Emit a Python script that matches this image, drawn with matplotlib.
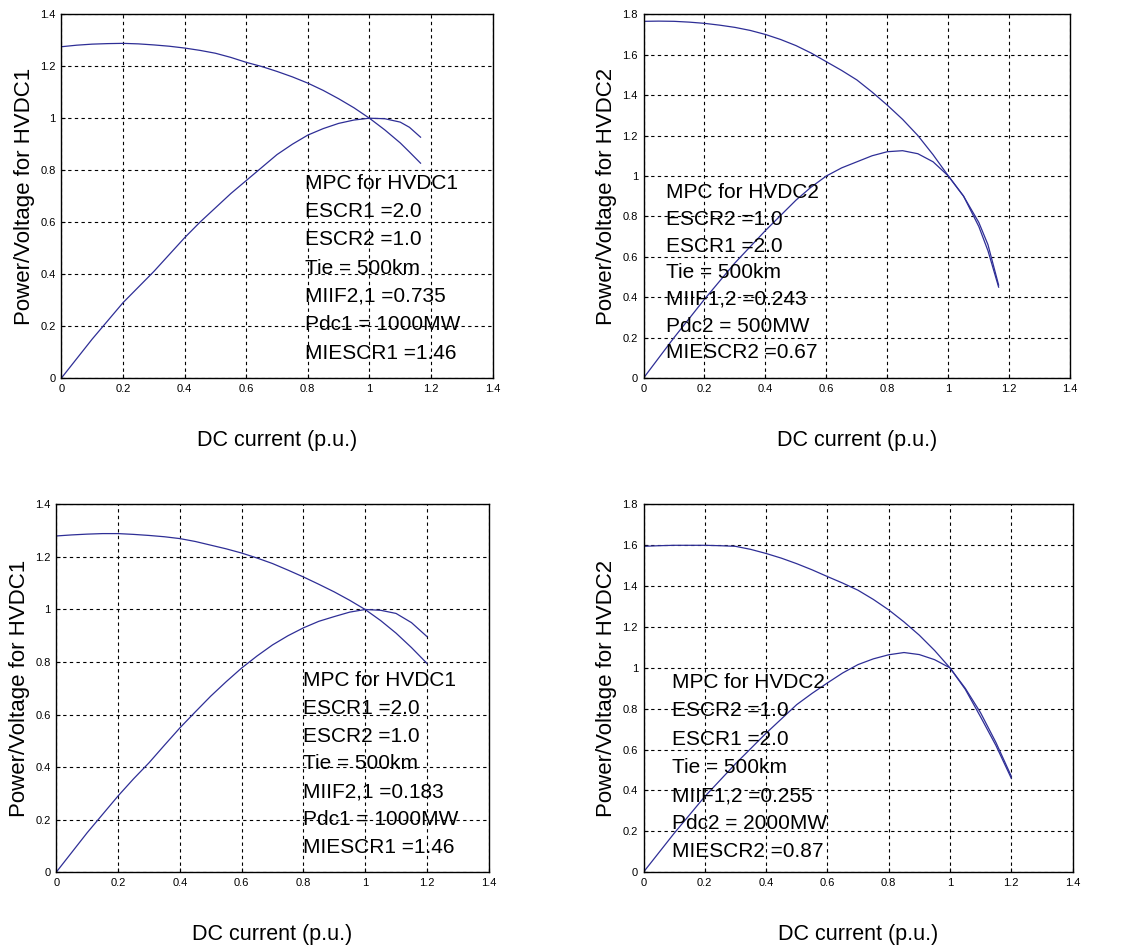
import matplotlib
matplotlib.use("Agg")
import matplotlib.pyplot as plt
from matplotlib import font_manager

names = {f.name for f in font_manager.fontManager.ttflist}
narrow = 'Liberation Sans Narrow' if 'Liberation Sans Narrow' in names else 'Liberation Sans'
plt.rcParams['font.family'] = ['Liberation Sans', 'DejaVu Sans']

# top left: HVDC1, MIIF2,1 = 0.735
x_tl = [0, 0.05, 0.1, 0.15, 0.2, 0.25, 0.3, 0.35, 0.4, 0.45, 0.5, 0.55, 0.6,
        0.65, 0.7, 0.75, 0.8, 0.85, 0.9, 0.95, 1.0, 1.05, 1.1, 1.13, 1.166]
p_tl = [0, 0.075, 0.15, 0.22, 0.29, 0.35, 0.41, 0.475, 0.54, 0.60, 0.655, 0.71, 0.76,
        0.81, 0.86, 0.90, 0.935, 0.96, 0.98, 0.993, 1.0, 0.998, 0.985, 0.965, 0.927]
v_tl = [1.275, 1.281, 1.285, 1.287, 1.288, 1.286, 1.282, 1.277, 1.27, 1.261, 1.25, 1.234, 1.215,
        1.199, 1.18, 1.159, 1.135, 1.107, 1.075, 1.04, 1.0, 0.955, 0.905, 0.87, 0.827]

# top right: HVDC2, Pdc2 = 500MW
x_tr = [0, 0.05, 0.1, 0.15, 0.2, 0.25, 0.3, 0.35, 0.4, 0.45, 0.5, 0.55, 0.6,
        0.65, 0.7, 0.75, 0.8, 0.85, 0.9, 0.95, 1.0, 1.05, 1.1, 1.13, 1.165]
p_tr = [0, 0.1, 0.2, 0.295, 0.39, 0.48, 0.57, 0.65, 0.73, 0.805, 0.88, 0.945, 1.0,
        1.04, 1.07, 1.10, 1.12, 1.125, 1.11, 1.07, 1.0, 0.9, 0.75, 0.63, 0.45]
v_tr = [1.765, 1.766, 1.765, 1.761, 1.755, 1.746, 1.735, 1.72, 1.70, 1.675, 1.645, 1.608, 1.565,
        1.522, 1.475, 1.415, 1.35, 1.28, 1.20, 1.105, 1.0, 0.9, 0.77, 0.66, 0.46]

# bottom left: HVDC1, MIIF2,1 = 0.183
x_bl = [0, 0.05, 0.1, 0.15, 0.2, 0.25, 0.3, 0.35, 0.4, 0.45, 0.5, 0.55, 0.6,
        0.65, 0.7, 0.75, 0.8, 0.85, 0.9, 0.95, 1.0, 1.05, 1.1, 1.15, 1.2]
p_bl = [0, 0.075, 0.15, 0.22, 0.29, 0.355, 0.416, 0.483, 0.549, 0.61, 0.67, 0.725, 0.777,
        0.823, 0.865, 0.90, 0.93, 0.955, 0.973, 0.99, 1.0, 0.997, 0.985, 0.95, 0.897]
v_bl = [1.28, 1.284, 1.287, 1.289, 1.289, 1.286, 1.282, 1.277, 1.27, 1.259, 1.245, 1.231, 1.215,
        1.196, 1.175, 1.15, 1.124, 1.096, 1.067, 1.035, 1.0, 0.958, 0.91, 0.855, 0.795]

# bottom right: HVDC2, Pdc2 = 2000MW
x_br = [0, 0.05, 0.1, 0.15, 0.2, 0.25, 0.3, 0.35, 0.4, 0.45, 0.5, 0.55, 0.6,
        0.65, 0.7, 0.75, 0.8, 0.85, 0.9, 0.95, 1.0, 1.05, 1.1, 1.15, 1.2]
p_br = [0, 0.095, 0.19, 0.28, 0.37, 0.45, 0.53, 0.605, 0.68, 0.75, 0.82, 0.875, 0.926,
        0.975, 1.016, 1.044, 1.064, 1.075, 1.065, 1.04, 1.0, 0.895, 0.76, 0.62, 0.46]
v_br = [1.595, 1.598, 1.6, 1.6, 1.6, 1.598, 1.595, 1.58, 1.56, 1.537, 1.51, 1.48, 1.447,
        1.415, 1.38, 1.335, 1.284, 1.225, 1.16, 1.085, 1.0, 0.9, 0.78, 0.635, 0.47]

txt_tl = ["MPC for HVDC1", "ESCR1 =2.0", "ESCR2 =1.0", "Tie = 500km",
          "MIIF2,1 =0.735", "Pdc1 = 1000MW", "MIESCR1 =1.46"]
txt_tr = ["MPC for HVDC2", "ESCR2 =1.0", "ESCR1 =2.0", "Tie = 500km",
          "MIIF1,2 =0.243", "Pdc2 = 500MW", "MIESCR2 =0.67"]
txt_bl = ["MPC for HVDC1", "ESCR1 =2.0", "ESCR2 =1.0", "Tie = 500km",
          "MIIF2,1 =0.183", "Pdc1 = 1000MW", "MIESCR1 =1.46"]
txt_br = ["MPC for HVDC2", "ESCR2 =1.0", "ESCR1 =2.0", "Tie = 500km",
          "MIIF1,2 =0.255", "Pdc2 = 2000MW", "MIESCR2 =0.87"]

xticks = [0, 0.2, 0.4, 0.6, 0.8, 1, 1.2, 1.4]
xticklabels = ['0', '0.2', '0.4', '0.6', '0.8', '1', '1.2', '1.4']
yticks1 = [0, 0.2, 0.4, 0.6, 0.8, 1, 1.2, 1.4]
yticklabels1 = ['0', '0.2', '0.4', '0.6', '0.8', '1', '1.2', '1.4']
yticks2 = [0, 0.2, 0.4, 0.6, 0.8, 1, 1.2, 1.4, 1.6, 1.8]
yticklabels2 = ['0', '0.2', '0.4', '0.6', '0.8', '1', '1.2', '1.4', '1.6', '1.8']

line_col = '#2e2e96'

fig = plt.figure(figsize=(11.26, 9.5), dpi=100)

panels = [
    # rect, x, p, v, ymax, yticks, ylabels, ylabel, text, tx, ty, tstep
    ([0.0545, 0.602, 0.383, 0.383], x_tl, p_tl, v_tl, 1.4, yticks1, yticklabels1,
     'Power/Voltage for HVDC1', txt_tl, 0.79, 0.75, 0.109),
    ([0.5715, 0.602, 0.379, 0.383], x_tr, p_tr, v_tr, 1.8, yticks2, yticklabels2,
     'Power/Voltage for HVDC2', txt_tr, 0.075, 0.917, 0.132),
    ([0.0500, 0.082, 0.384, 0.387], x_bl, p_bl, v_bl, 1.4, yticks1, yticklabels1,
     'Power/Voltage for HVDC1', txt_bl, 0.80, 0.73, 0.106),
    ([0.5715, 0.082, 0.381, 0.387], x_br, p_br, v_br, 1.8, yticks2, yticklabels2,
     'Power/Voltage for HVDC2', txt_br, 0.094, 0.927, 0.138),
]

for rect, x, p, v, ymax, yt, ytl, ylab, lines, tx, ty, step in panels:
    ax = fig.add_axes(rect)
    ax.plot(x, p, color=line_col, lw=0.9)
    ax.plot(x, v, color=line_col, lw=0.9)
    ax.set_xlim(0, 1.4)
    ax.set_ylim(0, ymax)
    ax.set_xticks(xticks)
    ax.set_xticklabels(xticklabels, fontfamily=narrow, fontsize=8)
    ax.set_yticks(yt)
    ax.set_yticklabels(ytl, fontfamily=narrow, fontsize=8)
    ax.tick_params(direction='in', length=3, width=0.8, pad=4)
    ax.grid(True, color='black', linestyle=(0, (3, 3)), linewidth=0.8)
    for s in ax.spines.values():
        s.set_linewidth(1.0)
    ax.set_xlabel('DC current (p.u.)', fontsize=15.5, labelpad=26)
    ax.set_ylabel(ylab, fontsize=16, labelpad=4)
    for i, t in enumerate(lines):
        ax.text(tx, ty - i * step, t, fontsize=15, va='center', ha='left')

fig.savefig('out.png', dpi=100)
